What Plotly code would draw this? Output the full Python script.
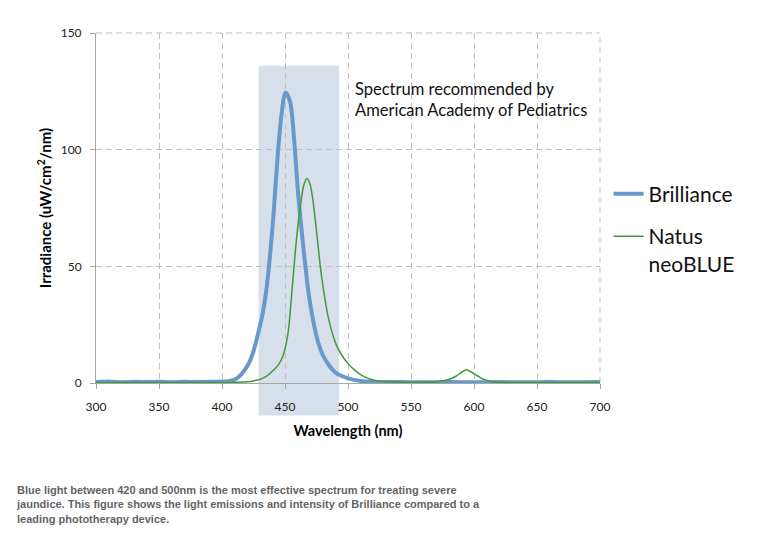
import plotly.graph_objects as go

# Brilliance spectrum (nm, uW/cm^2/nm)
brilliance_wl = [300, 310, 320, 330, 340, 350, 360, 370, 380, 390, 400, 405, 410, 415, 420, 423,
                 426, 429, 432, 435, 438, 441, 444, 447, 449, 450.5, 452, 454, 455, 456, 458, 460,
                 462, 464, 466, 468, 470, 473, 476, 480, 485, 490, 495, 500, 510, 520, 540, 560,
                 580, 600, 620, 640, 660, 680, 700]
brilliance_val = [0.4, 0.6, 0.3, 0.5, 0.4, 0.5, 0.3, 0.5, 0.4, 0.5, 0.6, 0.8, 1.4, 3.5, 7.2, 10.5,
                  15.5, 22, 29, 39, 54, 73, 96, 114, 122, 124.5, 123.5, 120.5, 117.5, 112.5, 99, 84,
                  72, 61, 51, 41.5, 34, 25, 18, 12, 7.5, 4.5, 3, 2, 0.9, 0.5, 0.4, 0.3,
                  0.4, 0.3, 0.4, 0.3, 0.4, 0.3, 0.4]

# Natus neoBLUE spectrum
natus_wl = [300, 350, 400, 410, 420, 425, 430, 435, 440, 445, 448, 451, 453, 455, 457, 459,
            461, 463, 465, 467.5, 470, 472, 474, 476, 478, 480, 482, 484, 486, 488, 491, 495,
            500, 505, 510, 515, 520, 525, 535, 550, 565, 575, 580, 586, 590, 594, 598, 603,
            608, 613, 620, 650, 700]
natus_val = [0.2, 0.2, 0.2, 0.3, 0.5, 0.9, 1.5, 2.8, 5, 8, 11, 17, 24, 36, 49, 61,
             71, 79, 85, 87.6, 85, 79, 70, 60, 50, 42, 35, 29, 24.5, 20.5, 16, 12,
             8.3, 5.6, 3.6, 2.2, 1.3, 0.8, 0.4, 0.3, 0.4, 0.9, 1.5, 3, 4.5, 5.7, 4.6, 3,
             1.5, 0.7, 0.3, 0.2, 0.2]

band_nm = [429, 493]
band_top = 136

x_ticks = [300, 350, 400, 450, 500, 550, 600, 650, 700]
y_ticks = [0, 50, 100, 150]

FONT = "Lato"
GRID = "#c0c0c0"
AXIS = "#a6a6a6"

fig = go.Figure()
fig.add_trace(go.Scatter(x=brilliance_wl, y=brilliance_val, name="Brilliance", mode="lines",
                         legendgroup="a",
                         line=dict(color="#6899cb", width=4, shape="spline", smoothing=0.8)))
fig.add_trace(go.Scatter(x=natus_wl, y=natus_val, name="Natus<br>neoBLUE", mode="lines",
                         legendgroup="b",
                         line=dict(color="#3f9a3c", width=1.5, shape="spline", smoothing=0.8)))

# shaded recommended band (extends below the axis)
fig.add_shape(type="rect", xref="x", yref="paper", x0=band_nm[0], x1=band_nm[1],
              y0=-0.093, y1=band_top / 150, fillcolor="#d7e0ea", line_width=0, layer="below")

# dashed gridlines on the top and right edges
fig.add_shape(type="line", xref="paper", yref="paper", x0=0, x1=1, y0=1, y1=1,
              line=dict(color=GRID, width=1, dash="6px,4px"), layer="below")
fig.add_shape(type="line", xref="paper", yref="paper", x0=1, x1=1, y0=0, y1=1,
              line=dict(color=GRID, width=1, dash="6px,4px"), layer="below")

fig.add_annotation(xref="paper", yref="paper", x=0.51, y=0.875, xanchor="left", yanchor="top",
                   text="Spectrum recommended by<br>American Academy of Pediatrics",
                   showarrow=False, align="left", font=dict(family=FONT, size=16.5, color="#111"))

fig.add_annotation(xref="paper", yref="paper", x=-0.163, y=-0.283, xanchor="left", yanchor="top",
                   text="Blue light between 420 and 500nm is the most effective spectrum for treating severe<br>"
                        "jaundice. This figure shows the light emissions and intensity of Brilliance compared to a<br>"
                        "leading phototherapy device.",
                   showarrow=False, align="left",
                   font=dict(family="Liberation Sans", size=11, color="#646464", weight="bold"))

grid = dict(showgrid=True, gridcolor=GRID, gridwidth=1, griddash="6px,4px")
fig.update_xaxes(range=[300, 700], tickvals=x_ticks, zeroline=False, showline=True,
                 linecolor=AXIS, linewidth=1, ticks="outside", ticklen=5, tickcolor=AXIS,
                 ticklabelstandoff=8,
                 tickfont=dict(family=FONT, size=12, color="#222"),
                 title=dict(text="<b>Wavelength (nm)</b>", font=dict(family=FONT, size=14.5, color="#000"),
                            standoff=12), **grid)
fig.update_yaxes(range=[0, 150], tickvals=y_ticks, zeroline=False, showline=True,
                 linecolor=AXIS, linewidth=1, ticks="outside", ticklen=5, tickcolor=AXIS,
                 ticklabelstandoff=6,
                 tickfont=dict(family=FONT, size=12, color="#222"),
                 title=dict(text="<b>Irradiance (uW/cm<sup>2</sup>/nm)</b>",
                            font=dict(family=FONT, size=15, color="#000"), standoff=5), **grid)

fig.update_layout(width=767, height=542, margin=dict(l=88, r=175, t=25, b=167),
                  paper_bgcolor="white", plot_bgcolor="rgba(0,0,0,0)",
                  font=dict(family=FONT),
                  showlegend=True,
                  legend=dict(x=1.017, y=0.598, xanchor="left", yanchor="top",
                              font=dict(family=FONT, size=21, color="#111"),
                              bgcolor="rgba(0,0,0,0)", itemwidth=30, tracegroupgap=12,
                              valign="top", traceorder="grouped"))

fig.write_html("out.html")
